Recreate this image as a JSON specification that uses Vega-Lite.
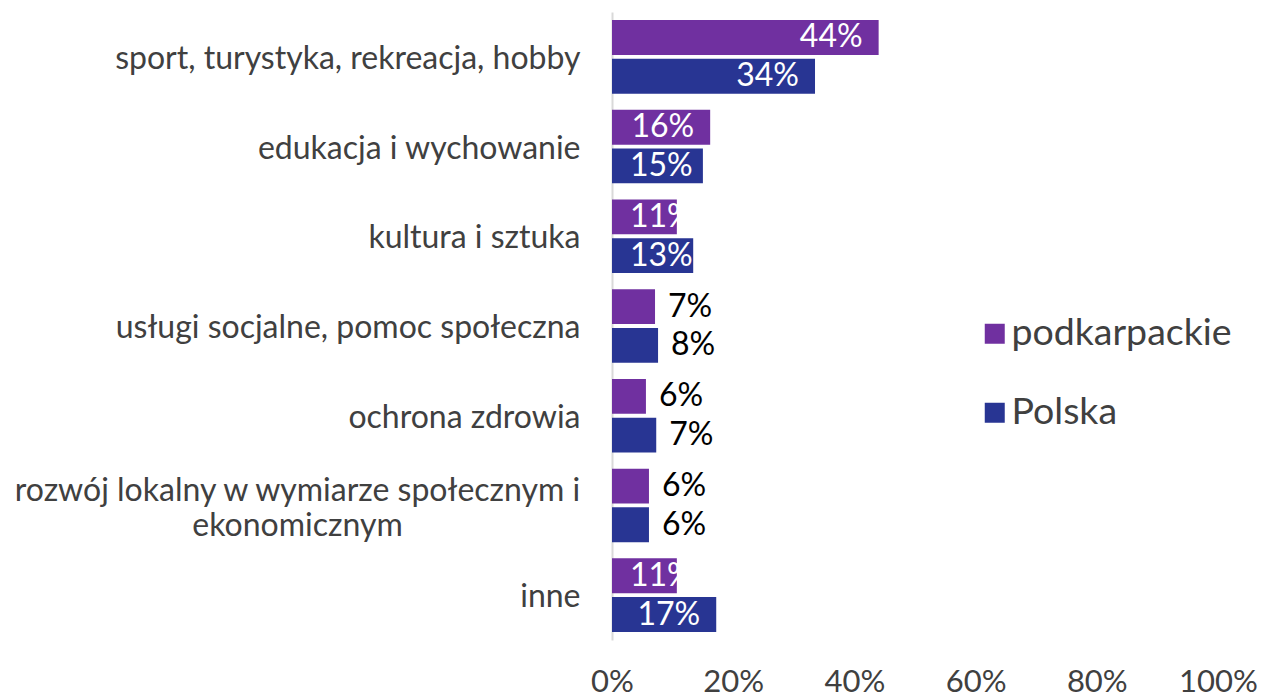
{
  "$schema": "https://vega.github.io/schema/vega-lite/v6.json",
  "width": 606,
  "height": 628,
  "autosize": {"type": "none"},
  "padding": {"left": 612, "top": 12, "right": 44, "bottom": 57},
  "config": {"view": {"stroke": null}, "font": "Lato"},
  "data": {"values": [
    {"cat": "sport, turystyka, rekreacja, hobby", "series": "podkarpackie", "value": 0.44},
    {"cat": "sport, turystyka, rekreacja, hobby", "series": "Polska", "value": 0.335},
    {"cat": "edukacja i wychowanie", "series": "podkarpackie", "value": 0.162},
    {"cat": "edukacja i wychowanie", "series": "Polska", "value": 0.15},
    {"cat": "kultura i sztuka", "series": "podkarpackie", "value": 0.107},
    {"cat": "kultura i sztuka", "series": "Polska", "value": 0.134},
    {"cat": "usługi socjalne, pomoc społeczna", "series": "podkarpackie", "value": 0.071},
    {"cat": "usługi socjalne, pomoc społeczna", "series": "Polska", "value": 0.076},
    {"cat": "ochrona zdrowia", "series": "podkarpackie", "value": 0.056},
    {"cat": "ochrona zdrowia", "series": "Polska", "value": 0.073},
    {"cat": "rozwój lokalny w wymiarze społecznym i ekonomicznym", "series": "podkarpackie", "value": 0.061},
    {"cat": "rozwój lokalny w wymiarze społecznym i ekonomicznym", "series": "Polska", "value": 0.061},
    {"cat": "inne", "series": "podkarpackie", "value": 0.107},
    {"cat": "inne", "series": "Polska", "value": 0.172}
  ]},
  "encoding": {
    "y": {
      "field": "cat", "type": "nominal", "sort": null,
      "scale": {"paddingInner": 0.18, "paddingOuter": 0.09},
      "axis": {
        "title": null, "ticks": false,
        "domainColor": "#d9d9d9", "domainWidth": 2,
        "labelFontSize": 32, "labelColor": "#404040", "labelLimit": 800,
        "labelLineHeight": 35,
        "labelOffset": {"condition": {"test": "indexof(datum.value, 'rozwój') == 0", "value": -14}, "value": 2},
        "labelAlign": {"condition": {"test": "indexof(datum.value, 'rozwój') == 0", "value": "center"}, "value": "right"},
        "labelPadding": {"condition": {"test": "indexof(datum.value, 'rozwój') == 0", "value": 315}, "value": 32},
        "labelExpr": "indexof(datum.value, 'rozwój') == 0 ? ['rozwój lokalny w wymiarze społecznym i', 'ekonomicznym'] : datum.value"
      }
    },
    "yOffset": {"field": "series", "type": "nominal", "sort": ["podkarpackie", "Polska"], "scale": {"paddingInner": 0.1}}
  },
  "layer": [
    {
      "mark": {"type": "bar"},
      "encoding": {
        "x": {
          "field": "value", "type": "quantitative",
          "scale": {"domain": [0, 1]},
          "axis": {
            "title": null, "values": [0, 0.2, 0.4, 0.6, 0.8, 1], "format": ".0%",
            "domain": false, "ticks": false, "grid": false, "labelFlush": false,
            "labelFontSize": 31, "labelColor": "#404040", "labelPadding": 27
          }
        },
        "color": {
          "field": "series", "type": "nominal",
          "scale": {"domain": ["podkarpackie", "Polska"], "range": ["#7030A0", "#283593"]},
          "legend": {
            "title": null, "orient": "none", "legendX": 364, "legendY": 303,
            "symbolType": "square", "symbolSize": 400, "symbolStrokeWidth": 0,
            "labelFontSize": 37.5, "labelColor": "#404040", "labelOffset": -2, "labelLimit": 400,
            "rowPadding": 40
          }
        }
      }
    },
    {
      "transform": [{"filter": "datum.value >= 0.16"}],
      "mark": {"type": "text", "align": "right", "baseline": "middle", "dx": -16, "fontSize": 32, "color": "#ffffff"},
      "encoding": {
        "x": {"field": "value", "type": "quantitative"},
        "text": {"field": "value", "type": "quantitative", "format": ".0%"}
      }
    },
    {
      "transform": [{"filter": "datum.value >= 0.1 && datum.value < 0.16"}],
      "mark": {"type": "text", "align": "left", "baseline": "middle", "dx": 18, "fontSize": 32, "color": "#ffffff"},
      "encoding": {
        "x": {"datum": 0, "type": "quantitative"},
        "text": {"field": "value", "type": "quantitative", "format": ".0%"}
      }
    },
    {
      "transform": [{"filter": "datum.value < 0.1"}],
      "mark": {"type": "text", "align": "left", "baseline": "middle", "dx": 13, "fontSize": 32, "color": "#000000"},
      "encoding": {
        "x": {"field": "value", "type": "quantitative"},
        "text": {"field": "value", "type": "quantitative", "format": ".0%"}
      }
    }
  ]
}
